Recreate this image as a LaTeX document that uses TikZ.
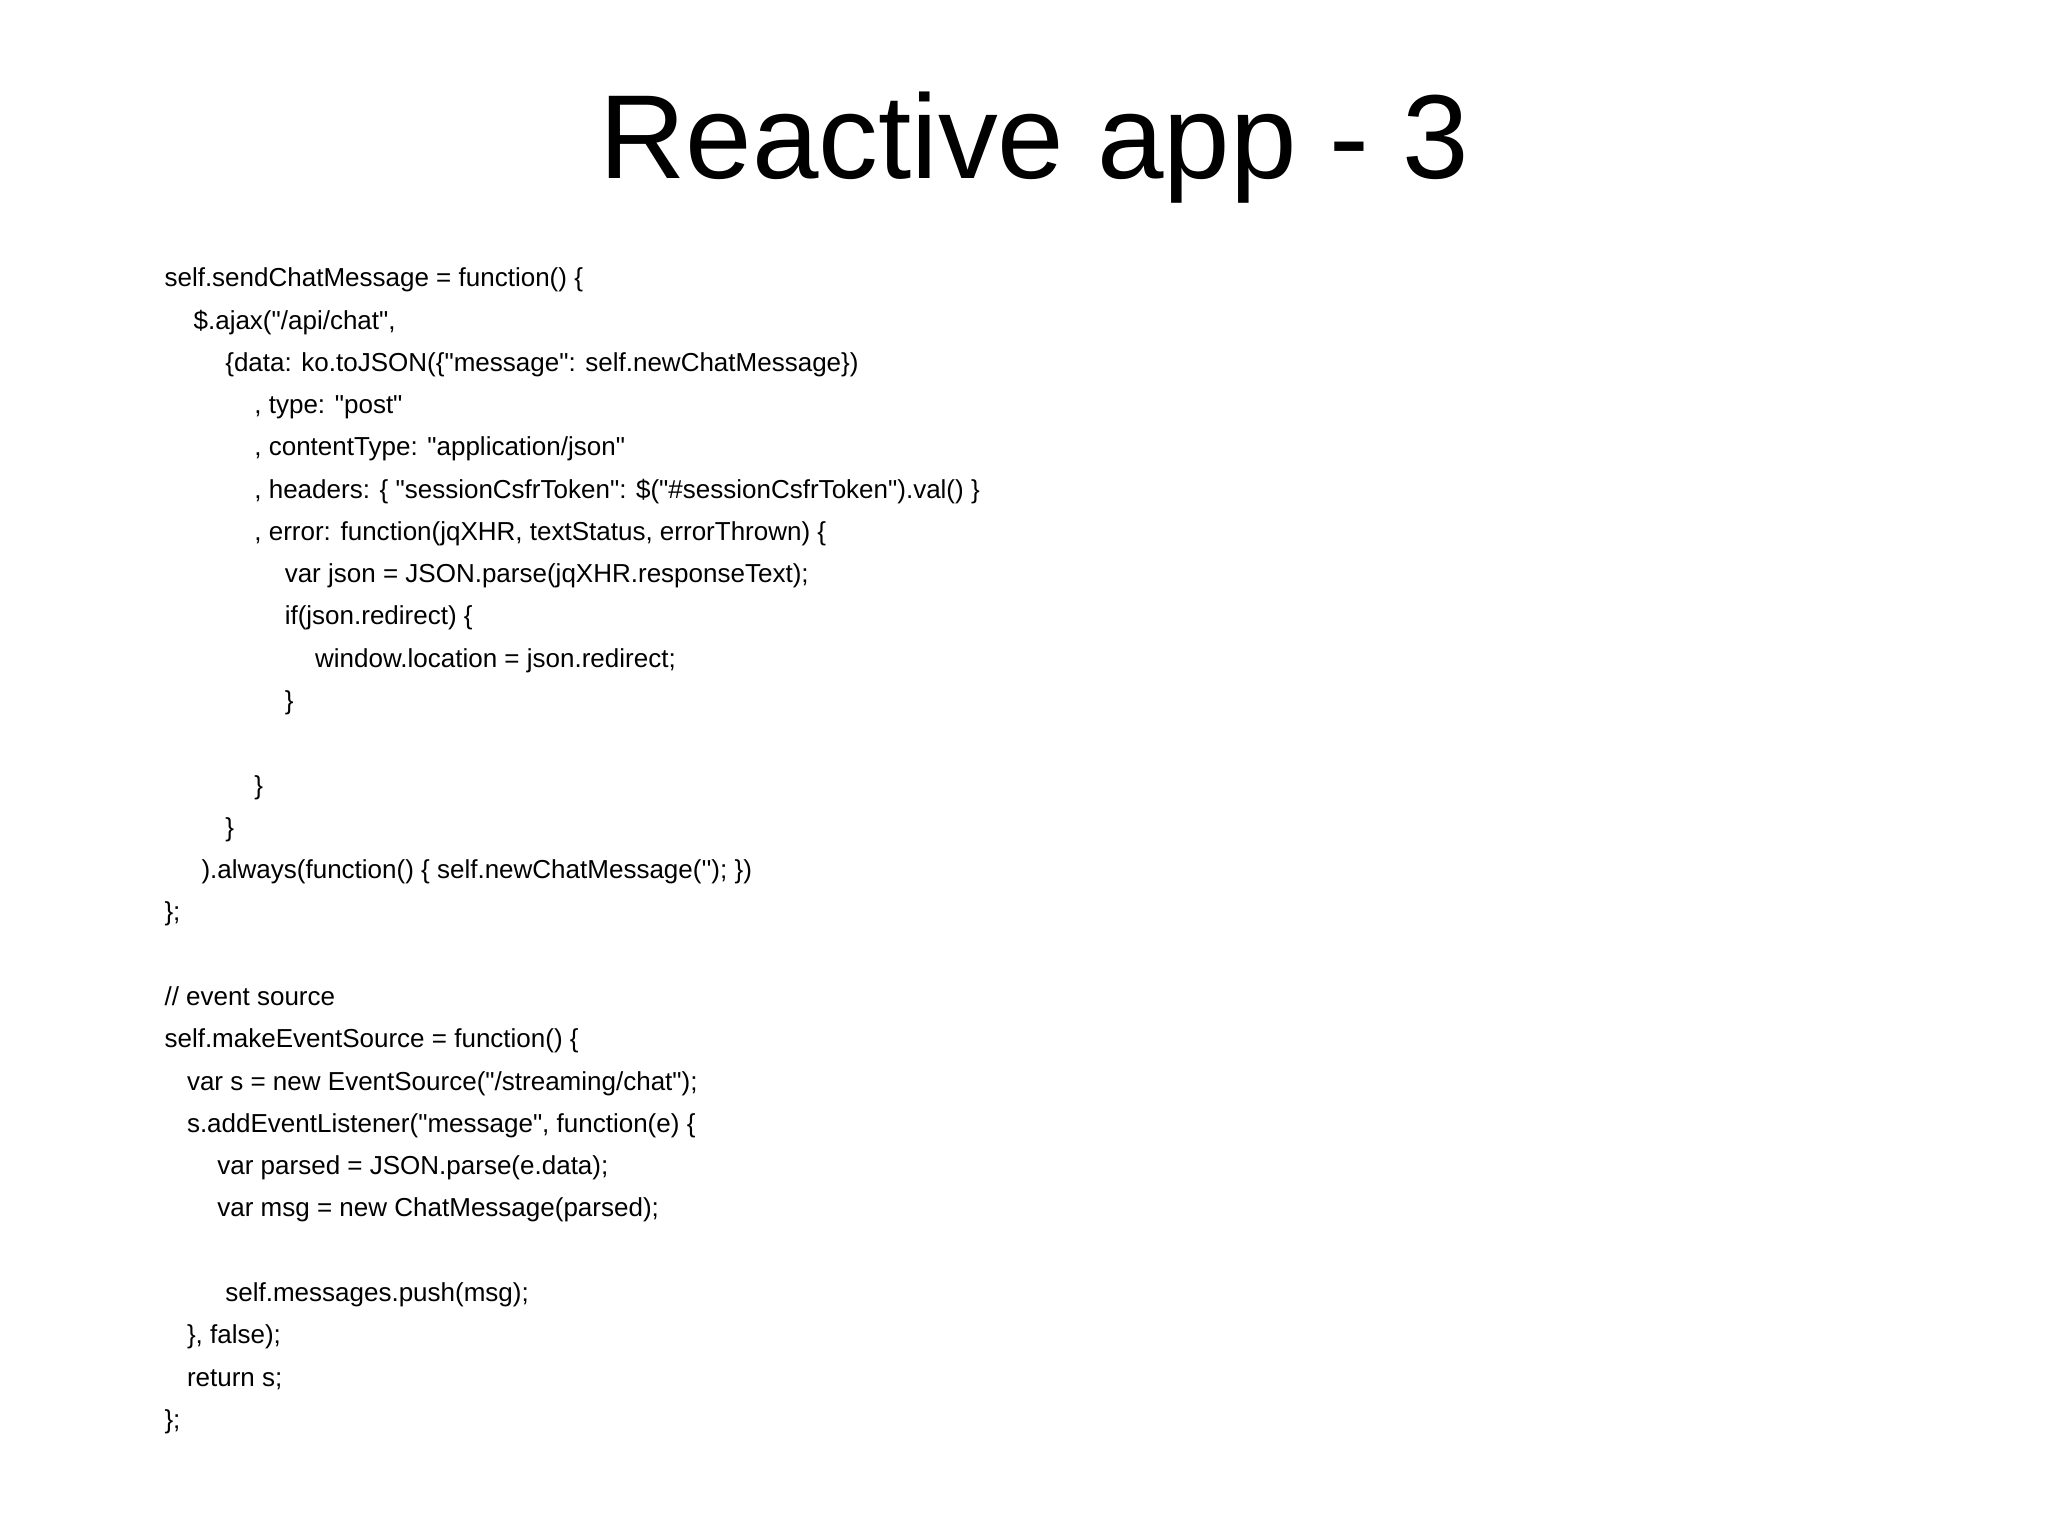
\documentclass[tikz,border=0pt]{standalone}
\usepackage{fontspec}
\newfontfamily\codefont{Liberation Sans}
\begin{document}
\begin{tikzpicture}[x=0.013213cm,y=-0.013213cm,
  code/.style={anchor=base west,inner sep=0pt,font=\codefont\fontsize{7.4pt}{9pt}\selectfont},
  ttl/.style={anchor=base,inner sep=0pt,font=\codefont\fontsize{34pt}{40pt}\selectfont}]
\useasboundingbox[fill=white] (0,0) rectangle (1550,1161.7);
\node[ttl] (title) at (783,135) {Reactive app - 3};
\def\L#1#2#3#4{\node[code] (#1) at (#2,{217+32*#3}) {#4};}
\L{a0}{124}{0}{self.sendChatMessage = function() \{}
\L{a1}{146}{1}{\$.ajax("/api/chat",}
\L{a2}{170}{2}{\{data: ko.toJSON(\{"message": self.newChatMessage\})}
\L{a3}{192}{3}{, type: "post"}
\L{a4}{192}{4}{, contentType: "application/json"}
\L{a5}{192}{5}{, headers: \{ "sessionCsfrToken": \$("\#sessionCsfrToken").val() \}}
\L{a6}{192}{6}{, error: function(jqXHR, textStatus, errorThrown) \{}
\L{a7}{215}{7}{var json = JSON.parse(jqXHR.responseText);}
\L{a8}{215}{8}{if(json.redirect) \{}
\L{a9}{238}{9}{window.location = json.redirect;}
\L{a10}{215}{10}{\}}
\L{a12}{192}{12}{\}}
\L{a13}{170}{13}{\}}
\L{a14}{152}{14}{).always(function() \{ self.newChatMessage(''); \})}
\L{a15}{124}{15}{\};}
\L{b0}{124}{17}{// event source}
\L{b1}{124}{18}{self.makeEventSource = function() \{}
\L{b2}{141}{19}{var s = new EventSource("/streaming/chat");}
\L{b3}{141}{20}{s.addEventListener("message", function(e) \{}
\L{b4}{164}{21}{var parsed = JSON.parse(e.data);}
\L{b5}{164}{22}{var msg = new ChatMessage(parsed);}
\L{b6}{170}{24}{self.messages.push(msg);}
\L{b7}{141}{25}{\}, false);}
\L{b8}{141}{26}{return s;}
\L{b9}{124}{27}{\};}
\end{tikzpicture}
\end{document}
